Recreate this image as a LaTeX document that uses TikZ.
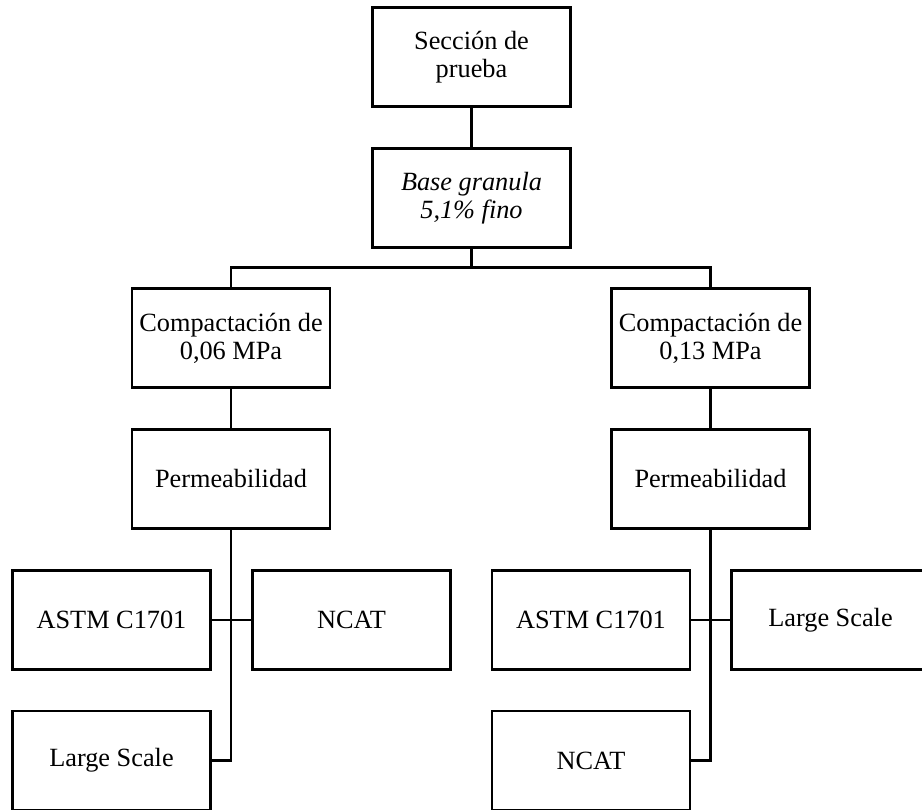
\documentclass[tikz,border=0pt]{standalone}
\usepackage{fontspec}
\setmainfont{Liberation Serif}
\usetikzlibrary{calc}
\begin{document}
\begin{tikzpicture}[x=1pt,y=-1pt,
  box/.style={draw=black,line width=2.5pt,rectangle,minimum width=198pt,minimum height=99pt,
    inner sep=0pt,align=center,font=\fontsize{26.3}{28}\selectfont},
  link/.style={draw=black,line width=2.5pt}]
\useasboundingbox (0,0) rectangle (922,810);
\node[box] (top) at (471.5,57) {Sección de\\prueba};
\node[box] (base) at (471.5,198) {\itshape Base granula\\\itshape 5,1\% fino};
\node[box] (cl) at (231,338) {Compactación de\\0,06 MPa};
\node[box] (cr) at (710.5,338) {Compactación de\\0,13 MPa};
\node[box] (pl) at (231,479) {Permeabilidad};
\node[box] (pr) at (710.5,479) {Permeabilidad};
\node[box] (la) at (111.5,620) {ASTM C1701};
\node[box] (ln) at (351.5,620) {NCAT};
\node[box] (ll) at (111.5,760.5) {Large Scale};
\node[box] (ra) at (591,620) {ASTM C1701};
\node[box] (rl) at (830.5,620) {Large Scale};
\node[box] (rn) at (591,760.5) {NCAT};
\coordinate (split) at ($(base.south)+(0,19)$);
\draw[link] (top.south) -- (base.north);
\draw[link] (base.south) -- (split);
\draw[link] (split) -| (cl.north);
\draw[link] (split) -| (cr.north);
\draw[link] (cl.south) -- (pl.north);
\draw[link] (cr.south) -- (pr.north);
\draw[link] (pl.south) |- (ll.east);
\draw[link] (la.east) -- (ln.west);
\draw[link] (pr.south) |- (rn.east);
\draw[link] (ra.east) -- (rl.west);
\end{tikzpicture}
\end{document}
